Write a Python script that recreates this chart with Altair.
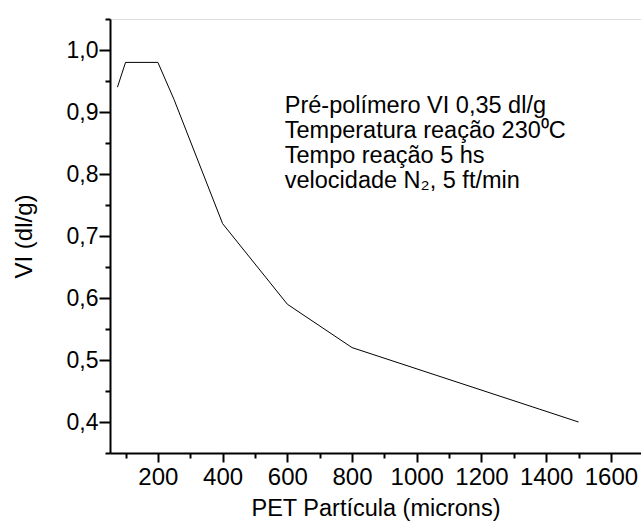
import altair as alt
import pandas as pd

# Data
particle = [75, 100, 200, 250, 400, 600, 800, 1500]
vi = [0.94, 0.98, 0.98, 0.92, 0.72, 0.59, 0.52, 0.40]

x_major = [200, 400, 600, 800, 1000, 1200, 1400, 1600]
x_minor = [100, 300, 500, 700, 900, 1100, 1300, 1500, 1700]
y_major = [0.4, 0.5, 0.6, 0.7, 0.8, 0.9, 1.0]
y_minor = [0.35, 0.45, 0.55, 0.65, 0.75, 0.85, 0.95, 1.05]

note_lines = [
    "Pré-polímero VI 0,35 dl/g",
    "Temperatura reação 230\u2070C",
    "Tempo reação 5 hs",
    "velocidade N\u2082, 5 ft/min",
]
note_x = [592]
note_y = [0.898]

FONT = "Liberation Sans"
x_dom = [52, 1693]
y_dom = [0.35, 1.05]

df = pd.DataFrame({"x": particle, "y": vi})

xs = alt.Scale(domain=x_dom, nice=False, zero=False)
ys = alt.Scale(domain=y_dom, nice=False, zero=False)

common_axis = dict(
    domainColor="black", domainWidth=2, tickColor="black", tickWidth=2,
    grid=False, labelFont=FONT, titleFont=FONT, labelColor="black",
    titleColor="black", titleFontWeight="normal",
)

line = alt.Chart(df).mark_line(color="black", strokeWidth=1).encode(
    x=alt.X("x:Q", scale=xs, axis=alt.Axis(
        values=x_major, format="d", tickSize=9, labelFontSize=24, labelPadding=3,
        title="PET Partícula (microns)", titleFontSize=23.5, titlePadding=7,
        orient="bottom", **common_axis)),
    y=alt.Y("y:Q", scale=ys, axis=alt.Axis(
        values=y_major, tickSize=11, labelFontSize=23, labelPadding=1,
        labelExpr="replace(format(datum.value, '.1f'), '.', ',')",
        title="VI (dl/g)", titleFontSize=24, titlePadding=30,
        orient="left", **common_axis)),
)

minor = alt.Chart(df).mark_line(opacity=0).encode(
    x=alt.X("x:Q", scale=xs, axis=alt.Axis(
        values=x_minor, tickSize=5, labels=False, title=None,
        orient="bottom", domain=False, tickColor="black", tickWidth=2, grid=False)),
    y=alt.Y("y:Q", scale=ys, axis=alt.Axis(
        values=y_minor, tickSize=5, labels=False, title=None,
        orient="left", domain=False, tickColor="black", tickWidth=2, grid=False)),
)

note_df = pd.DataFrame({"x": note_x, "y": note_y, "t": [note_lines]})
note = alt.Chart(note_df).mark_text(
    align="left", baseline="alphabetic", font=FONT, fontSize=23.5,
    lineHeight=25, color="black",
).encode(
    x=alt.X("x:Q", scale=xs, axis=None),
    y=alt.Y("y:Q", scale=ys, axis=None),
    text="t",
)

chart = alt.layer(line, minor, note).resolve_axis(
    x="independent", y="independent"
).properties(
    width=531, height=434,
    autosize=alt.AutoSizeParams(type="none"),
    padding={"left": 110, "top": 19, "right": 0, "bottom": 69},
).configure_view(stroke=None).configure(background="white")

chart.save("out.html", embed_options={"renderer": "svg", "actions": False})
